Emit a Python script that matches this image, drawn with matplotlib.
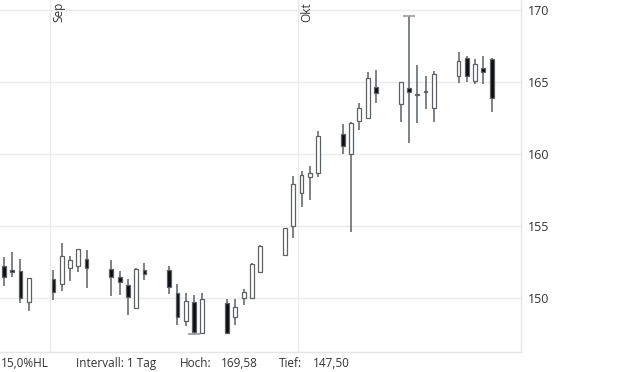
import numpy as np
import matplotlib
matplotlib.use("Agg")
import matplotlib.pyplot as plt
import matplotlib.dates as mdates
from matplotlib.transforms import offset_copy

plt.rcParams['font.family'] = ['Open Sans', 'DejaVu Sans']

dates = ["2025-08-26", "2025-08-27", "2025-08-28", "2025-08-29",
         "2025-09-01", "2025-09-02", "2025-09-03", "2025-09-04", "2025-09-05",
         "2025-09-08", "2025-09-09", "2025-09-10", "2025-09-11", "2025-09-12",
         "2025-09-15", "2025-09-16", "2025-09-17", "2025-09-18", "2025-09-19",
         "2025-09-22", "2025-09-23", "2025-09-24", "2025-09-25", "2025-09-26",
         "2025-09-29", "2025-09-30", "2025-10-01", "2025-10-02", "2025-10-03",
         "2025-10-06", "2025-10-07", "2025-10-08", "2025-10-09", "2025-10-10",
         "2025-10-13", "2025-10-14", "2025-10-15", "2025-10-16", "2025-10-17",
         "2025-10-20", "2025-10-21", "2025-10-22", "2025-10-23", "2025-10-24"]
opens = [152.25, 151.99, 151.90, 149.77,
         151.37, 150.98, 152.13, 152.27, 152.73,
         152.04, 151.46, 150.93, 149.31, 151.97,
         151.97, 150.35, 148.43, 149.73, 147.58,
         149.66, 148.73, 150.05, 150.01, 151.81,
         153.01, 155.02, 157.29, 158.44, 158.72,
         161.40, 159.99, 162.32, 162.53, 164.64,
         163.46, 164.57, 164.12, 164.33, 163.18,
         165.44, 166.65, 165.10, 165.98, 166.60]
highs = [152.87, 153.22, 152.73, 151.41,
         151.99, 153.84, 152.94, 153.42, 153.36,
         152.68, 151.90, 151.37, 152.13, 152.45,
         152.25, 150.98, 150.35, 150.22, 150.35,
         149.96, 149.96, 150.67, 152.43, 153.70,
         154.90, 158.49, 158.83, 159.18, 161.61,
         162.09, 162.20, 163.57, 165.68, 165.84,
         164.99, 169.58, 166.19, 165.42, 165.77,
         167.09, 166.81, 166.60, 166.81, 166.69]
lows = [150.88, 151.51, 149.70, 149.13,
        149.91, 150.53, 151.23, 151.81, 150.70,
        150.19, 150.24, 148.85, 149.31, 151.28,
        150.33, 148.16, 148.11, 147.50, 147.58,
        147.58, 148.16, 149.54, 149.94, 151.81,
        152.96, 154.17, 156.36, 156.82, 158.44,
        159.99, 154.63, 161.68, 162.49, 163.57,
        162.25, 160.76, 162.18, 163.16, 162.21,
        164.92, 164.99, 164.87, 164.87, 162.95]
closes = [151.51, 151.81, 150.05, 151.41,
          150.42, 152.94, 152.66, 153.40, 152.13,
          151.46, 151.12, 150.12, 152.06, 151.67,
          150.81, 148.73, 149.82, 147.69, 149.96,
          147.58, 149.38, 150.42, 152.36, 153.63,
          154.90, 157.93, 158.56, 158.70, 161.26,
          160.57, 162.14, 163.18, 165.26, 164.22,
          164.99, 164.33, 164.18, 164.38, 165.54,
          166.46, 165.40, 166.26, 165.68, 163.92]
month_starts = ["2025-09-01", "2025-10-01"]
month_labels = ["Sep", "Okt"]
yticks = [150, 155, 160, 165, 170]
footer = ["15,0%HL", "Intervall: 1 Tag", "Hoch:", "169,58", "Tief:", "147,50"]

W, H = 620, 372
fig = plt.figure(figsize=(W / 100, H / 100), dpi=100)
ax = fig.add_axes([0, 1 - 352 / H, 521 / W, 352 / H])

x = mdates.date2num(np.array(dates, dtype="datetime64[D]")) + 0.42
o = np.array(opens); h = np.array(highs); l = np.array(lows); c = np.array(closes)

edge = "#5b6167"
ax.vlines(x, l, h, color=edge, linewidth=1.1, zorder=2)
up = c >= o
bottoms = np.minimum(o, c)
heights = np.maximum(np.abs(c - o), 0.04)
ax.bar(x[up], heights[up], bottom=bottoms[up], width=0.46, color="white",
       edgecolor=edge, linewidth=0.9, zorder=3)
ax.bar(x[~up], heights[~up], bottom=bottoms[~up], width=0.46, color="#0d0d0d",
       edgecolor=edge, linewidth=0.9, zorder=3)

# max / min markers
imax = int(np.argmax(h)); imin = int(np.argmin(l))
ax.hlines([h[imax]], x[imax] - 0.7, x[imax] + 0.7, color="#9a9a9a", linewidth=1.2, zorder=2)
ax.hlines([l[imin]], x[imin] - 0.7, x[imin] + 0.7, color="#9a9a9a", linewidth=1.2, zorder=2)

ms = mdates.date2num(np.array(month_starts, dtype="datetime64[D]"))
day0 = mdates.date2num(np.datetime64("2025-09-01"))
ax.set_xlim(day0 - 6.05, day0 + 56.97)
ax.set_ylim(146.28, 170.69)

ax.set_xticks(ms)
ax.set_yticks(yticks)
ax.grid(True, color="#ebebeb", linewidth=1.0, zorder=0)
ax.set_axisbelow(True)
ax.tick_params(axis="x", length=0, labelbottom=False)
ax.tick_params(axis="y", length=0, labelleft=False, labelright=True, pad=5,
               labelsize=9, labelcolor="#333333")
for s in ["top", "left"]:
    ax.spines[s].set_visible(False)
for s in ["right", "bottom"]:
    ax.spines[s].set_color("#e6e6e6")
    ax.spines[s].set_linewidth(1.0)

for m, lab in zip(ms, month_labels):
    tr = offset_copy(ax.get_xaxis_transform(), fig=fig, x=2.5, y=-2, units="dots")
    ax.text(m, 1.0, lab, rotation=90, ha="left", va="top", fontsize=8.5,
            color="#333333", transform=tr)

fx = [1, 76.5, 180, 220.5, 279, 313]
for px, t in zip(fx, footer):
    fig.text(px / W, 1 - 367 / H, t, fontsize=8.5, color="#333333",
             ha="left", va="baseline")

fig.savefig("out.png", dpi=100)
